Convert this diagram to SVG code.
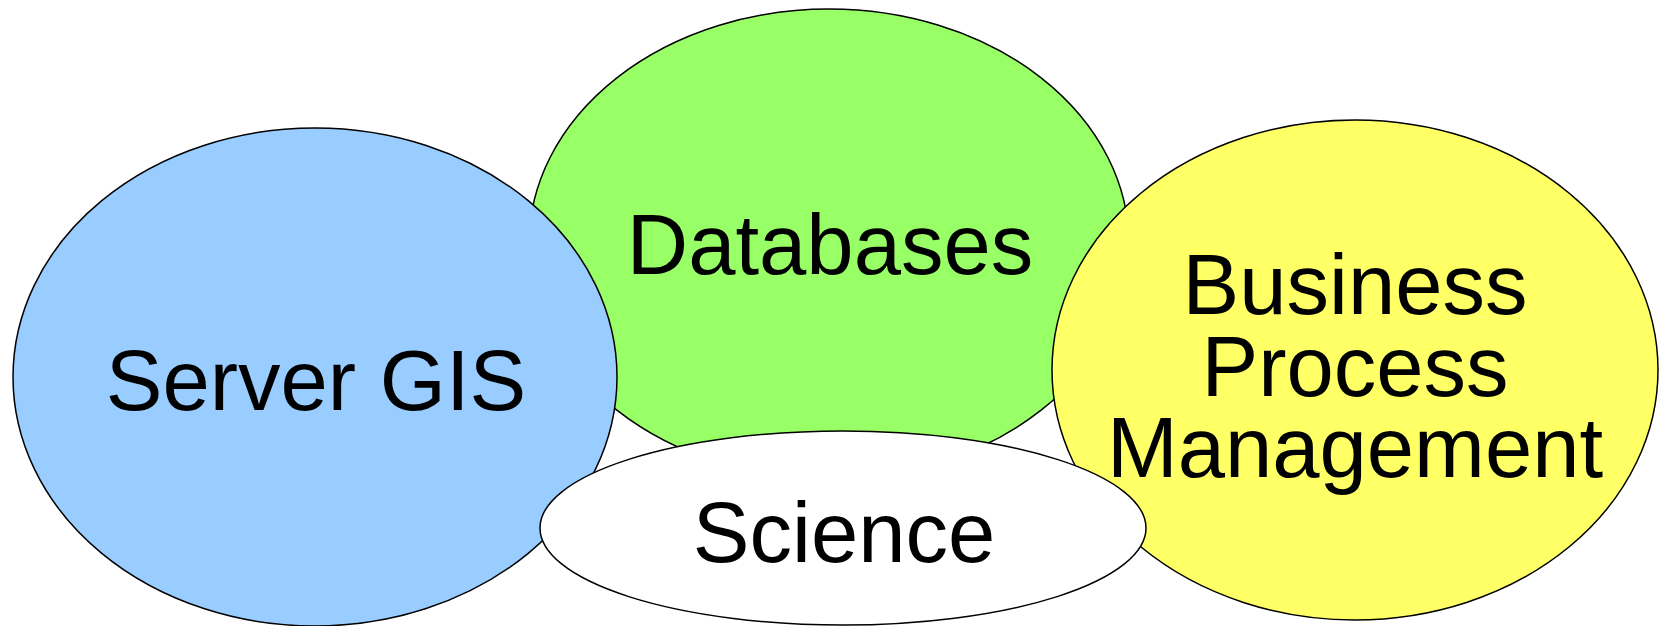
<svg xmlns="http://www.w3.org/2000/svg" width="1661" height="626" viewBox="0 0 1661 626">
<style>
.shape{stroke:#000;stroke-width:1.5}
.lbl{font-family:"Liberation Sans",Arial,sans-serif;font-size:85px;fill:#000;text-anchor:middle}
</style>
<rect width="1661" height="626" fill="#fff"/>
<g id="databases">
<ellipse class="shape" cx="829" cy="244" rx="300" ry="235" fill="#99FF66"/>
<text class="lbl" x="830" y="274">Databases</text>
</g>
<g id="server-gis">
<ellipse class="shape" cx="315" cy="377" rx="302" ry="249" fill="#99CCFF"/>
<text class="lbl" x="316" y="410">Server GIS</text>
</g>
<g id="bpm">
<ellipse class="shape" cx="1355" cy="370" rx="303" ry="250" fill="#FFFF66"/>
<text class="lbl" x="1355" y="314">Business</text>
<text class="lbl" x="1355" y="396">Process</text>
<text class="lbl" x="1355" y="477">Management</text>
</g>
<g id="science">
<ellipse class="shape" cx="843" cy="528" rx="303" ry="97" fill="#FFFFFF"/>
<text class="lbl" x="844" y="562">Science</text>
</g>
</svg>
